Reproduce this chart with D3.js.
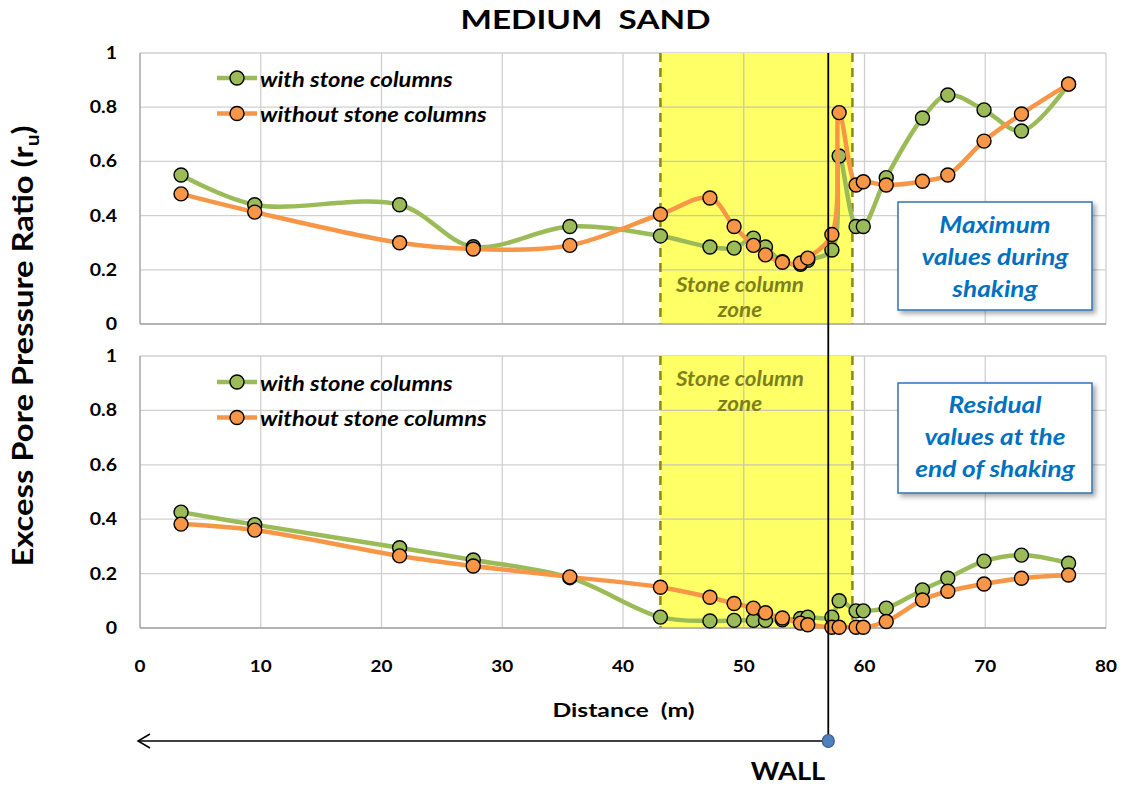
<!DOCTYPE html>
<html>
<head>
<meta charset="utf-8">
<script src="https://cdn.jsdelivr.net/npm/d3@7"></script>
<style>
  body { margin: 0; background: #fff; }
  text { font-family: Lato, "Open Sans", sans-serif; font-weight: bold; }
</style>
</head>
<body>
<div id="chart"></div>
<script>
// distances (m) shared by all series
var distance = [3.4, 9.5, 21.5, 27.6, 35.6, 43.1, 47.2, 49.2, 50.8, 51.8, 53.2, 54.7, 55.3,
                57.3, 57.9, 59.3, 59.9, 61.8, 64.8, 66.9, 69.9, 73.0, 76.9];
// maximum values during shaking
var maxWith    = [0.55, 0.44, 0.44, 0.285, 0.36, 0.325, 0.284, 0.28, 0.317, 0.284, 0.23, 0.22, 0.235,
                  0.273, 0.62, 0.36, 0.36, 0.54, 0.76, 0.845, 0.79, 0.712, 0.885];
var maxWithout = [0.48, 0.413, 0.30, 0.277, 0.29, 0.405, 0.465, 0.36, 0.29, 0.255, 0.228, 0.225, 0.243,
                  0.33, 0.78, 0.513, 0.525, 0.513, 0.527, 0.55, 0.675, 0.775, 0.885];
// residual values at the end of shaking
var resWith    = [0.426, 0.38, 0.295, 0.25, 0.185, 0.04, 0.026, 0.028, 0.028, 0.028, 0.03, 0.035, 0.04,
                  0.04, 0.10, 0.063, 0.063, 0.073, 0.14, 0.183, 0.246, 0.268, 0.238];
var resWithout = [0.382, 0.36, 0.265, 0.228, 0.188, 0.15, 0.113, 0.09, 0.073, 0.056, 0.037, 0.018, 0.012,
                  0.003, 0.003, 0.003, 0.003, 0.024, 0.103, 0.135, 0.162, 0.183, 0.195];

var xTicks = [0, 10, 20, 30, 40, 50, 60, 70, 80];
var yTicks = [0, 0.2, 0.4, 0.6, 0.8, 1];
var seriesNames = ["with stone columns", "without stone columns"];
var zone = [43.1, 59.0];
var wallAt = 57.0;

var W = 1129, H = 787;
var green = "#9bbb59", orange = "#f79646";

var svg = d3.select("#chart").append("svg")
    .attr("width", W).attr("height", H);

// text placed at (x,y), stretched horizontally by sx (the source lettering is wide)
function label(parent, x, y, txt, size, sx, anchor, italic) {
  return parent.append("text")
    .attr("transform", "translate(" + x + "," + y + ") scale(" + sx + ",1)")
    .attr("text-anchor", anchor || "middle")
    .attr("xml:space", "preserve")
    .style("font-size", size + "px")
    .style("font-style", italic ? "italic" : "normal")
    .text(txt);
}

var x = d3.scaleLinear().domain([0, 80]).range([140, 1106]);

var panels = [
  {y: d3.scaleLinear().domain([0, 1]).range([324, 53]), a: maxWith, b: maxWithout,
   box: ["Maximum", "values during", "shaking"], boxY: 202, boxH: 108, textY: 233,
   zoneTxtY: 292, legY: 78},
  {y: d3.scaleLinear().domain([0, 1]).range([628, 356]), a: resWith, b: resWithout,
   box: ["Residual", "values at the", "end of shaking"], boxY: 383, boxH: 110, textY: 413,
   zoneTxtY: 386, legY: 382}
];

var defs = svg.append("defs");
var f = defs.append("filter").attr("id", "shadow").attr("x", "-10%").attr("y", "-10%")
    .attr("width", "130%").attr("height", "140%");
f.append("feDropShadow").attr("dx", 3).attr("dy", 3).attr("stdDeviation", 2.5)
    .attr("flood-color", "#000").attr("flood-opacity", 0.35);

panels.forEach(function(p) {
  var g = svg.append("g");
  var y = p.y;

  // grid
  g.selectAll(".hg").data(yTicks).join("line")
    .attr("x1", x(0)).attr("x2", x(80))
    .attr("y1", d => y(d)).attr("y2", d => y(d))
    .attr("stroke", "#d0d0d0").attr("stroke-width", 1.3);
  g.selectAll(".vg").data(xTicks.slice(1)).join("line")
    .attr("x1", d => x(d)).attr("x2", d => x(d))
    .attr("y1", y(0)).attr("y2", y(1))
    .attr("stroke", "#d0d0d0").attr("stroke-width", 1.3);

  // stone column zone
  g.append("rect")
    .attr("x", x(zone[0])).attr("width", x(zone[1]) - x(zone[0]))
    .attr("y", y(1)).attr("height", y(0) - y(1))
    .attr("fill", "#ffff66");
  // gridlines stay visible through the yellow band
  g.selectAll(".vg2").data(xTicks.filter(d => d > zone[0] && d < zone[1])).join("line")
    .attr("x1", d => x(d)).attr("x2", d => x(d))
    .attr("y1", y(0)).attr("y2", y(1))
    .attr("stroke", "#c8c8b0").attr("stroke-width", 1.3);
  g.selectAll(".hg2").data(yTicks.slice(1, 5)).join("line")
    .attr("x1", x(zone[0])).attr("x2", x(zone[1]))
    .attr("y1", d => y(d)).attr("y2", d => y(d))
    .attr("stroke", "#c8c8b0").attr("stroke-width", 1.3);
  zone.forEach(function(z) {
    g.append("line")
      .attr("x1", x(z)).attr("x2", x(z)).attr("y1", y(1)).attr("y2", y(0))
      .attr("stroke", "#8c8a10").attr("stroke-width", 2.5)
      .attr("stroke-dasharray", "9,6");
  });

  label(g, 740, p.zoneTxtY, "Stone column", 21, 1.07, "middle", true).attr("fill", "#7f7f1a");
  label(g, 740, p.zoneTxtY + 25, "zone", 21, 1.07, "middle", true).attr("fill", "#7f7f1a");

  // axes frame
  g.append("line").attr("x1", x(0)).attr("x2", x(0)).attr("y1", y(0)).attr("y2", y(1))
    .attr("stroke", "#a6a6a6").attr("stroke-width", 1.5);
  g.append("line").attr("x1", x(0)).attr("x2", x(80)).attr("y1", y(0)).attr("y2", y(0))
    .attr("stroke", "#a6a6a6").attr("stroke-width", 1.5);

  // y tick labels
  yTicks.forEach(function(t) {
    label(g, 117, y(t) + 6, t === 0 || t === 1 ? String(t) : t.toFixed(1), 17, 1.15, "end");
  });

  // series
  var line = d3.line().x(d => x(d[0])).y(d => y(d[1])).curve(d3.curveCatmullRom.alpha(0.5));
  [[p.a, green], [p.b, orange]].forEach(function(s) {
    var pts = distance.map((d, i) => [d, s[0][i]]);
    g.append("path").datum(pts).attr("d", line)
      .attr("fill", "none").attr("stroke", s[1]).attr("stroke-width", 4.5)
      .attr("stroke-linejoin", "round");
    g.selectAll(null).data(pts).join("circle")
      .attr("cx", d => x(d[0])).attr("cy", d => y(d[1])).attr("r", 7)
      .attr("fill", s[1]).attr("stroke", "#000").attr("stroke-width", 1.4);
  });

  // legend
  [green, orange].forEach(function(c, i) {
    var ly = p.legY + i * 35.5;
    g.append("line").attr("x1", 217).attr("x2", 257).attr("y1", ly).attr("y2", ly)
      .attr("stroke", c).attr("stroke-width", 4.5);
    g.append("circle").attr("cx", 237).attr("cy", ly).attr("r", 7)
      .attr("fill", c).attr("stroke", "#000").attr("stroke-width", 1.4);
    label(g, 260, ly + 8.5, seriesNames[i], 21, 1.13, "start", true);
  });

  // description box
  g.append("rect").attr("x", 898).attr("y", p.boxY).attr("width", 194).attr("height", p.boxH)
    .attr("fill", "#fff").attr("stroke", "#2e75b6").attr("stroke-width", 1.5)
    .attr("filter", "url(#shadow)");
  p.box.forEach(function(t, i) {
    label(g, 995, p.textY + i * 32, t, 23, 1.14, "middle", true).attr("fill", "#0070c0");
  });
});

// x tick labels
xTicks.forEach(function(t) {
  label(svg, x(t), 672, String(t), 17.5, 1.08, "middle");
});

label(svg, 623.5, 717, "Distance  (m)", 19.5, 1.27, "middle");

// title
label(svg, 585.5, 29, "MEDIUM  SAND", 26, 1.28, "middle");

// y axis title
var yt = svg.append("text")
  .attr("transform", "translate(33,346) rotate(-90) scale(1.17,1)")
  .attr("text-anchor", "middle")
  .style("font-size", "28px");
yt.append("tspan").text("Excess Pore Pressure Ratio (r");
yt.append("tspan").attr("dy", 6).style("font-size", "18px").text("u");
yt.append("tspan").attr("dy", -6).text(")");

// wall line + arrow
var ay = 741;
svg.append("line").attr("x1", x(wallAt)).attr("x2", x(wallAt)).attr("y1", 53).attr("y2", ay)
  .attr("stroke", "#000").attr("stroke-width", 1.8);
svg.append("line").attr("x1", x(wallAt)).attr("x2", x(0) - 2).attr("y1", ay).attr("y2", ay)
  .attr("stroke", "#000").attr("stroke-width", 1.5);
svg.append("path")
  .attr("d", "M" + (x(0) + 10) + "," + (ay - 7) + "L" + (x(0) - 2) + "," + ay + "L" + (x(0) + 10) + "," + (ay + 7))
  .attr("fill", "none").attr("stroke", "#000").attr("stroke-width", 1.5);
svg.append("ellipse").attr("cx", x(wallAt)).attr("cy", ay).attr("rx", 6).attr("ry", 6.5)
  .attr("fill", "#4f81bd").attr("stroke", "#385d8a").attr("stroke-width", 1.2);
label(svg, 788, 780, "WALL", 25, 1.09, "middle");
</script>
</body>
</html>
